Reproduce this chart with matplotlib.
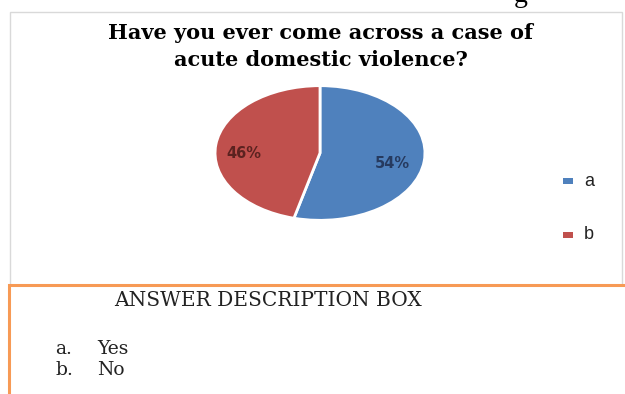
import matplotlib.pyplot as plt
from matplotlib.patches import Rectangle

# Données
labels = ["a", "b"]
values = [54, 46]
colors = ["#4F81BD", "#C0504D"]
pct_colors = ["#1F2E4F", "#4A1A18"]
answers = ["Yes", "No"]

W, H = 625, 394
fig = plt.figure(figsize=(W / 100, H / 100), dpi=100)
fig.patch.set_facecolor("white")

# Cadre du graphique
fig.patches.append(Rectangle((10 / W, 1 - 285 / H), 612 / W, 273 / H,
                             transform=fig.transFigure, fill=False,
                             edgecolor="#D9D9D9", linewidth=1))
# Cadre de description (orange)
fig.patches.append(Rectangle((9 / W, -0.05), 1.0, 1 - 285 / H + 0.05,
                             transform=fig.transFigure, fill=False,
                             edgecolor="#F79A55", linewidth=2.2))

# Lettre coupée du texte qui précède
fig.text(514 / W, 1 - 2 / H, "g", fontsize=20, family="Liberation Serif",
         va="baseline", ha="left")

fig.text(321 / W, 1 - 33 / H, "Have you ever come across a case of",
         ha="center", va="center", fontsize=15, fontweight="bold",
         family="DejaVu Serif")
fig.text(321 / W, 1 - 60 / H, "acute domestic violence?",
         ha="center", va="center", fontsize=15, fontweight="bold",
         family="DejaVu Serif")

# Camembert (axe non carré -> ellipse)
ax = fig.add_axes([214 / W, 1 - 221 / H, 212 / W, 136 / H])
wedges, texts = ax.pie(values, colors=colors, startangle=90, counterclock=False,
                       wedgeprops=dict(edgecolor="white", linewidth=2))
ax.set_aspect("auto")
ax.set_xlim(-1.01, 1.01)
ax.set_ylim(-1.01, 1.01)

pct_pos = [(0.69, -0.15), (-0.73, 0.0)]
for v, c, (x, y) in zip(values, pct_colors, pct_pos):
    ax.text(x, y, f"{v}%", ha="center", va="center", fontsize=10.5, color=c,
            family="DejaVu Sans", fontweight="bold", alpha=0.85)

# Légende
for lab, col, y in zip(labels, colors, [181, 235]):
    fig.patches.append(Rectangle((563 / W, 1 - (y + 3) / H), 10 / W, 6 / H,
                                 transform=fig.transFigure, facecolor=col,
                                 edgecolor="none"))
    fig.text(584 / W, 1 - y / H, lab, fontsize=13, va="center", ha="left",
             family="Liberation Sans", color="#222222")

fig.text(268 / W, 1 - 301 / H, "ANSWER DESCRIPTION BOX", ha="center", va="center",
         fontsize=14.5, family="DejaVu Serif", color="#222222")
for lab, t, y in zip(labels, answers, [349, 370]):
    fig.text(55 / W, 1 - y / H, lab + ".", ha="left", va="center", fontsize=13.5,
             family="DejaVu Serif", color="#222222")
    fig.text(97 / W, 1 - y / H, t, ha="left", va="center", fontsize=13.5,
             family="DejaVu Serif", color="#222222")

fig.savefig("out.png", dpi=100)
